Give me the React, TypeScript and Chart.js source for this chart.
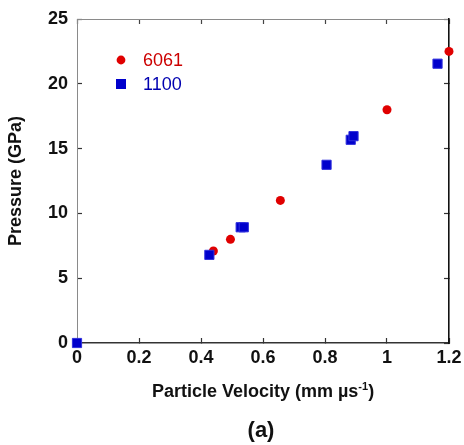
import React, { useEffect, useRef } from 'react';
import { Chart, registerables } from 'chart.js';

Chart.register(...registerables);

const seriesNames = ['6061', '1100'];
const velocity6061 = [0.44, 0.495, 0.656, 1.0, 1.2];
const pressure6061 = [7.1, 8.0, 11.0, 18.0, 22.5];
const velocity1100 = [0, 0.427, 0.528, 0.538, 0.805, 0.883, 0.892, 1.163];
const pressure1100 = [0, 6.8, 8.93, 8.93, 13.75, 15.68, 15.96, 21.55];
const xTickLabels = ['0', '0.2', '0.4', '0.6', '0.8', '1', '1.2'];
const yTickLabels = ['0', '5', '10', '15', '20', '25'];
const xTitleMain = 'Particle Velocity (mm \u00b5s';
const xTitleSup = '-1';
const xTitleEnd = ')';
const yTitle = 'Pressure (GPa)';
const panelLabel = '(a)';

const FONT = '"Liberation Sans", Arial, Helvetica, sans-serif';
const RED = '#e00000';
const BLUE = '#0000cc';

const zeroPad = (s: any) => {
  s.paddingTop = 0;
  s.paddingBottom = 0;
  s.paddingLeft = 0;
  s.paddingRight = 0;
};

const annotations = {
  id: 'annotations',
  afterDraw(chart: any) {
    const { ctx, chartArea } = chart;
    ctx.save();
    const cx = (chartArea.left + chartArea.right) / 2;
    const base = chartArea.bottom + 54;
    ctx.fillStyle = '#111';
    ctx.textBaseline = 'alphabetic';
    ctx.textAlign = 'left';
    ctx.font = `bold 18px ${FONT}`;
    const w1 = ctx.measureText(xTitleMain).width;
    const w3 = ctx.measureText(xTitleEnd).width;
    ctx.font = `bold 11px ${FONT}`;
    const w2 = ctx.measureText(xTitleSup).width;
    let x = cx - (w1 + w2 + w3) / 2;
    ctx.font = `bold 18px ${FONT}`;
    ctx.fillText(xTitleMain, x, base);
    x += w1;
    ctx.font = `bold 11px ${FONT}`;
    ctx.fillText(xTitleSup, x, base - 7);
    x += w2;
    ctx.font = `bold 18px ${FONT}`;
    ctx.fillText(xTitleEnd, x, base);
    ctx.font = `bold 22px ${FONT}`;
    ctx.textAlign = 'center';
    ctx.fillText(panelLabel, cx - 2, base + 40);
    const lx = chartArea.left + 44;
    const ly1 = chartArea.top + 41;
    const ly2 = chartArea.top + 65;
    ctx.fillStyle = RED;
    ctx.beginPath();
    ctx.arc(lx, ly1, 4.4, 0, Math.PI * 2);
    ctx.fill();
    ctx.fillStyle = BLUE;
    ctx.fillRect(lx - 5, ly2 - 5, 10, 10);
    ctx.font = `18px ${FONT}`;
    ctx.textAlign = 'left';
    ctx.textBaseline = 'middle';
    ctx.fillStyle = '#cc0000';
    ctx.fillText(seriesNames[0], lx + 22, ly1 + 1);
    ctx.fillStyle = '#0000b0';
    ctx.fillText(seriesNames[1], lx + 22, ly2 + 1);
    ctx.restore();
  },
};

export default function App() {
  const ref = useRef<HTMLCanvasElement | null>(null);
  useEffect(() => {
    if (!ref.current) return;
    const tickFont = { family: FONT, size: 18, weight: 'bold' as const };
    const chart = new Chart(ref.current, {
      type: 'scatter',
      data: {
        datasets: [
          {
            label: seriesNames[1],
            data: velocity1100.map((v, i) => ({ x: v, y: pressure1100[i] })),
            pointStyle: 'rect',
            pointRadius: 6.5,
            backgroundColor: BLUE,
            borderColor: '#3030dd',
            borderWidth: 1,
            clip: false as any,
          },
          {
            label: seriesNames[0],
            data: velocity6061.map((v, i) => ({ x: v, y: pressure6061[i] })),
            pointStyle: 'circle',
            pointRadius: 4.5,
            backgroundColor: RED,
            borderColor: RED,
            borderWidth: 0,
            clip: false as any,
          },
        ],
      },
      options: {
        animation: false,
        responsive: false,
        layout: { padding: { left: 0, top: 19, right: 15, bottom: 0 } },
        plugins: { legend: { display: false }, tooltip: { enabled: false } },
        scales: {
          x: {
            type: 'linear',
            position: 'bottom',
            min: 0,
            max: 1.2,
            ticks: {
              stepSize: 0.2,
              font: tickFont,
              color: '#111',
              padding: 9,
              maxRotation: 0,
              callback: (_v: any, i: number) => xTickLabels[i],
            },
            grid: { drawOnChartArea: false, drawTicks: true, tickLength: -5, tickColor: '#333', tickWidth: 1.2 },
            border: { display: true, color: '#333', width: 1.5 },
            afterFit: (s: any) => { s.height = 102; zeroPad(s); },
          },
          x2: {
            type: 'linear',
            position: 'top',
            min: 0,
            max: 1.2,
            ticks: { stepSize: 0.2, display: false },
            grid: { drawOnChartArea: false, drawTicks: true, tickLength: -5, tickColor: '#444', tickWidth: 1.2 },
            border: { display: true, color: '#8a8a8a', width: 1 },
            afterFit: (s: any) => { s.height = 0; zeroPad(s); },
          },
          y: {
            type: 'linear',
            position: 'left',
            min: 0,
            max: 25,
            ticks: {
              stepSize: 5,
              font: tickFont,
              color: '#111',
              padding: 14,
              callback: (_v: any, i: number) => yTickLabels[i],
            },
            title: {
              display: true,
              text: yTitle,
              font: { family: FONT, size: 18, weight: 'bold' },
              color: '#111',
              padding: { top: 5, bottom: 0 },
            },
            grid: { drawOnChartArea: false, drawTicks: true, tickLength: -5, tickColor: '#333', tickWidth: 1.2 },
            border: { display: true, color: '#8a8a8a', width: 1 },
            afterFit: (s: any) => { s.width = 77; zeroPad(s); },
          },
          y2: {
            type: 'linear',
            position: 'right',
            min: 0,
            max: 25,
            ticks: { stepSize: 5, display: false },
            grid: { drawOnChartArea: false, drawTicks: true, tickLength: -5, tickColor: '#333', tickWidth: 1.2 },
            border: { display: true, color: '#111', width: 1.6 },
            afterFit: (s: any) => { s.width = 0; zeroPad(s); },
          },
        },
      } as any,
      plugins: [annotations],
    });
    return () => chart.destroy();
  }, []);
  return (
    <div style={{ position: 'fixed', left: 0, top: 0, width: 464, height: 445, background: '#fff' }}>
      <canvas ref={ref} width={464} height={445} style={{ display: 'block' }} />
    </div>
  );
}
